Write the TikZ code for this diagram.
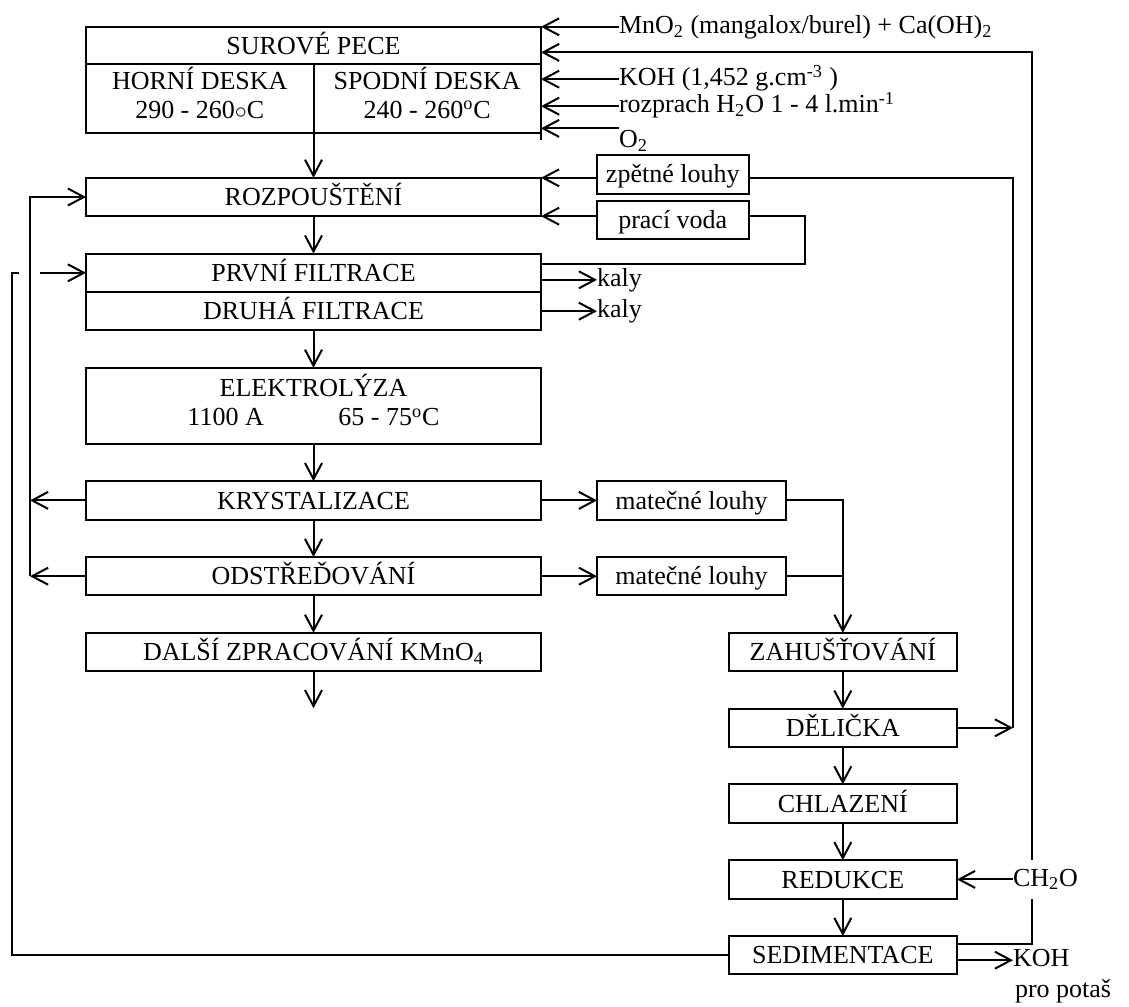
\documentclass[tikz,border=0pt]{standalone}
\usepackage{fontspec}
\setmainfont{Liberation Serif}
\usetikzlibrary{arrows.meta, positioning, fit, backgrounds, calc}

\tikzset{
  procbox/.style={
    draw, line width=1pt, fill=white, align=center, inner sep=0pt,
    outer sep=0pt, minimum width=227.5pt, minimum height=19.2pt,
    text height=10.4pt, text depth=1.8pt},
  twoline/.style={text height=24.9pt, text depth=4.8pt},
  sidebox/.style={procbox, minimum width=114.2pt},
  lyebox/.style={procbox, minimum width=94.5pt},
  recbox/.style={procbox, minimum width=75.75pt},
  note/.style={inner sep=0pt, outer sep=0pt, anchor=west,
    text height=9.5pt, text depth=2.8pt},
  flow/.style={-{Straight Barb[length=8pt, width=8.5pt]}, line width=1pt},
  pipe/.style={line width=1pt},
}

\begin{document}
\begin{tikzpicture}[x=0.5pt, y=-0.5pt, node distance=18.7pt,
    font=\fontsize{13}{14.5}\selectfont]
  \useasboundingbox (0,0) rectangle (1129,1006);
  % kilns
  \node[procbox, minimum height=18.8pt] (pece) at (313.5,45.6) {SUROVÉ PECE};
  \node[procbox, twoline, minimum width=113.75pt, minimum height=34.2pt,
        below right=0pt of pece.south west] (horni)
       {HORNÍ DESKA\\290 - 260$\circ$C};
  \node[procbox, twoline, minimum width=113.75pt, minimum height=34.2pt,
        below left=0pt of pece.south east] (spodni)
       {SPODNÍ DESKA\\240 - 260\textsuperscript{o}C};
  \node[fit=(pece)(horni)(spodni), inner sep=0pt, outer sep=0pt] (peceall) {};
  % main line
  \node[procbox, below=22.5pt of peceall] (roz) {ROZPOUŠTĚNÍ};
  \node[procbox, below=of roz]     (filt1) {PRVNÍ FILTRACE};
  \node[procbox, below=0pt of filt1] (filt2) {DRUHÁ FILTRACE};
  \node[procbox, twoline, below=of filt2, minimum height=38pt] (elek)
       {ELEKTROLÝZA\\1100 A\hspace{37.3pt}65 - 75\textsuperscript{o}C};
  \node[procbox, below=of elek]    (kryst) {KRYSTALIZACE};
  \node[procbox, below=of kryst]   (odstr) {ODSTŘEĎOVÁNÍ};
  \node[procbox, below=of odstr]   (dalsi) {DALŠÍ ZPRACOVÁNÍ KMnO\textsubscript{4}};
  \coordinate[below=18.5pt of dalsi] (dalsiout);
  % liquors
  \node[recbox, right=28pt of roz.north east, yshift=1.75pt] (zpet) {zpětné louhy};
  \node[recbox, right=28pt of roz.south east, yshift=-2pt]   (praci) {prací voda};
  \node[lyebox, right=28pt of kryst] (mat1) {matečné louhy};
  \node[lyebox, right=28pt of odstr] (mat2) {matečné louhy};
  % lye line
  \node[sidebox, right=93.8pt of dalsi] (zahus) {ZAHUŠŤOVÁNÍ};
  \node[sidebox, below=of zahus] (delic) {DĚLIČKA};
  \node[sidebox, below=of delic] (chlaz) {CHLAZENÍ};
  \node[sidebox, below=of chlaz] (reduk) {REDUKCE};
  \node[sidebox, below=of reduk] (sedim) {SEDIMENTACE};
  % inputs and outputs
  \node[note, right=39pt of peceall.north east] (mno)
       {MnO\textsubscript{2} (mangalox/burel) + Ca(OH)\textsubscript{2}};
  \node[note] (kohin) at ($(mno.west)+(0,-26.2pt)$)
       {KOH (1,452 g.cm\textsuperscript{-3} )};
  \node[note] (rozprach) at ($(mno.west)+(0,-39.7pt)$)
       {rozprach H\textsubscript{2}O 1 - 4 l.min\textsuperscript{-1}};
  \node[note, anchor=north west] (o2) at ($(mno.west)+(0,-50.8pt)$) {O\textsubscript{2}};
  \node[note, right=28pt of filt1.east, yshift=-3.5pt] (kaly1) {kaly};
  \node[note, right=28pt of filt2.east] (kaly2) {kaly};
  \node[note, right=28pt of reduk, fill=white, minimum height=19.5pt] (ch2o) {CH\textsubscript{2}O};
  \node[note, right=28pt of sedim.east, yshift=-2.5pt] (kohout) {KOH};
  \node[note] (potas) at ($(kohout.west)+(1pt,-15.5pt)$) {pro potaš};

  \draw[pipe] (peceall.south east) -- ++(0,-3.5pt);
  \draw[flow] (mno.west) -- (mno.west -| peceall.east);
  \draw[flow] (kohin.west) -- (kohin.west -| peceall.east);
  \draw[flow] (rozprach.west) -- (rozprach.west -| peceall.east);
  \draw[flow] (o2.north west) -- (o2.north west -| peceall.east);

  \draw[flow] (peceall.south) -- (roz);
  \draw[flow] (roz) -- (filt1);
  \draw[flow] (filt2) -- (elek);
  \draw[flow] (elek) -- (kryst);
  \draw[flow] (kryst) -- (odstr);
  \draw[flow] (odstr) -- (dalsi);
  \draw[flow] (dalsi) -- (dalsiout);

  \draw[flow] (filt1.east |- kaly1.west) -- (kaly1.west);
  \draw[flow] (filt2.east |- kaly2.west) -- (kaly2.west);

  % wash water and returned liquor
  \coordinate (washx) at ($(praci.east)+(28.25pt,0)$);
  \draw[pipe] ($(filt1.north east)+(0,-5pt)$) -| (washx |- roz.south)
        -- (praci.east |- roz.south);
  \draw[flow] (praci.west |- roz.south) -- (roz.south east);
  \coordinate (lyex) at ($(delic.east)+(28pt,0)$);
  \draw[flow] (delic.east) -- (lyex);
  \draw[pipe] (lyex) |- (zpet.east |- roz.north);
  \draw[flow] (zpet.west |- roz.north) -- (roz.north east);

  % mother liquors
  \draw[flow] (kryst) -- (mat1);
  \draw[flow] (odstr) -- (mat2);
  \draw[flow] (mat1) -| (zahus);
  \draw[pipe] (mat2) -- (mat2 -| zahus);
  \draw[flow] (zahus) -- (delic);
  \draw[flow] (delic) -- (chlaz);
  \draw[flow] (chlaz) -- (reduk);
  \draw[flow] (reduk) -- (sedim);
  \draw[flow] (ch2o) -- (reduk);
  \draw[flow] (sedim.east |- kohout.west) -- (kohout.west);

  % recycle lines on the left
  \coordinate (retin) at ($(roz.west)+(-28pt,0)$);
  \coordinate (retout) at ($(filt1.west)+(-37pt,0)$);
  \draw[flow] (kryst.west) -- (kryst.west -| retin);
  \draw[flow] (odstr.west) -- (odstr.west -| retin);
  \draw[flow] (odstr.west -| retin) -- (retin) -- (roz.west);
  \draw[pipe] (sedim.west) -| (retout) -- ($(retout)+(3.5pt,0)$);
  \draw[flow] ($(filt1.west -| retin)+(5pt,0)$) -- (filt1.west);

  % sediment back to the kilns
  \coordinate (loopx) at ($(sedim.north east)+(37.5pt,0)$);
  \coordinate (back) at ($(mno.west)+(0,-12.8pt)$);
  \begin{scope}[on background layer]
    \draw[flow] ($(sedim.north east)+(0,-4pt)$) -| (loopx |- back)
          -- (back -| peceall.east);
  \end{scope}
\end{tikzpicture}
\end{document}
